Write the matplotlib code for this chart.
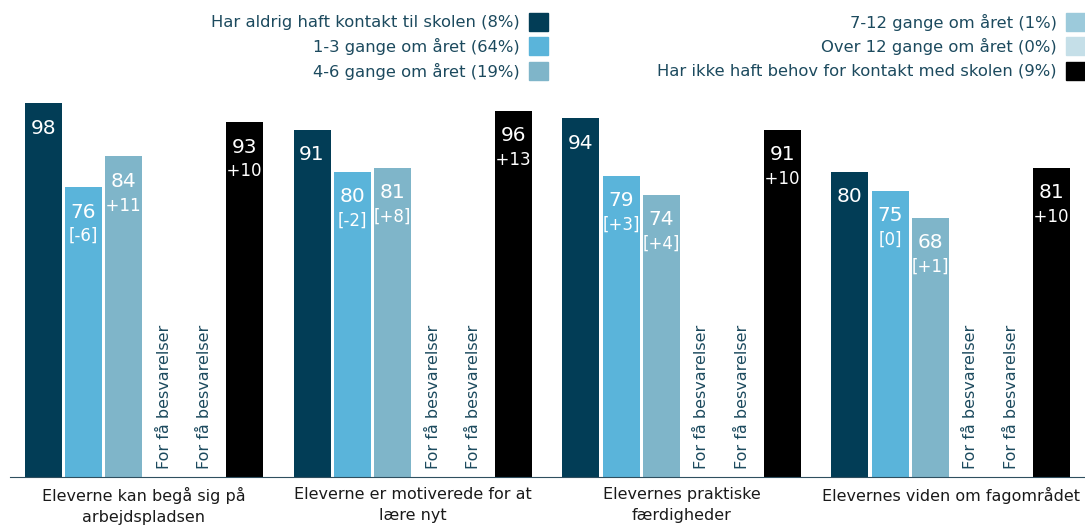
import matplotlib.pyplot as plt
from matplotlib.patches import Rectangle
import numpy as np

kategorier = ['Eleverne kan begå sig på\narbejdspladsen',
              'Eleverne er motiverede for at\nlære nyt',
              'Elevernes praktiske\nfærdigheder',
              'Elevernes viden om fagområdet']

serier = ['Har aldrig haft kontakt til skolen (8%)',
          '1-3 gange om året (64%)',
          '4-6 gange om året (19%)',
          '7-12 gange om året (1%)',
          'Over 12 gange om året (0%)',
          'Har ikke haft behov for kontakt med skolen (9%)']
farver = ['#023d56', '#5ab4da', '#7fb5c9', '#9ccadb', '#c5dfe8', '#000000']

# None = for få besvarelser
vaerdier = [
    [98, 91, 94, 80],
    [76, 80, 79, 75],
    [84, 81, 74, 68],
    [None, None, None, None],
    [None, None, None, None],
    [93, 96, 91, 81],
]
aendringer = [
    [None, None, None, None],
    ['-6', '-2', '+3', '0'],
    ['+11', '+8', '+4', '+1'],
    [None, None, None, None],
    [None, None, None, None],
    ['+10', '+13', '+10', '+10'],
]

plt.rcParams['font.family'] = 'DejaVu Sans'
fig = plt.figure(figsize=(10.85, 5.27), dpi=100)
ax = fig.add_axes([0.0088, 0.0949, 0.9912, 0.724])

x = np.arange(len(kategorier))
bredde = 0.1375
trin = 0.15
tekstfarve = '#1c4a5e'

for i, (vals, aend) in enumerate(zip(vaerdier, aendringer)):
    pos = x + (i - 2.5) * trin
    for xp, v, a in zip(pos, vals, aend):
        if v is None:
            ax.text(xp, 2, 'For få besvarelser', rotation=90, ha='center',
                    va='bottom', fontsize=11.5, color=tekstfarve)
            continue
        bar = ax.bar(xp, v, width=bredde, color=farver[i])[0]
        ax.annotate(str(v), (xp, v), xytext=(0, -25), textcoords='offset pixels',
                    ha='center', va='center', fontsize=14.5, color='white')
        if a is not None:
            t = ax.annotate(f'[{a}]', (xp, v), xytext=(0, -49),
                            textcoords='offset pixels', ha='center', va='center',
                            fontsize=12, color='white')
            t.set_clip_path(bar)

ax.set_xlim(-0.5, 3.5)
ax.set_ylim(0, 100)
for s in ['top', 'right', 'left']:
    ax.spines[s].set_visible(False)
ax.spines['bottom'].set_color('#2f4f5f')
ax.set_yticks([])
ax.set_xticks(x)
ax.set_xticklabels(kategorier, fontsize=11.5, color='#1a1a1a', linespacing=1.5)
ax.tick_params(axis='x', length=0, pad=7)

# legende i to kolonner, tekst højrestillet med kasse til højre
kol_x = [529, 1066]
rk_y = [22, 46, 71]
W, H = 1085, 527
for i, navn in enumerate(serier):
    kx = kol_x[i // 3]
    ky = rk_y[i % 3]
    fig.patches.append(Rectangle((kx / W, 1 - (ky + 9) / H), 19 / W, 18 / H,
                                 transform=fig.transFigure, color=farver[i]))
    fig.text((kx - 9) / W, 1 - ky / H, navn, ha='right', va='center',
             fontsize=11.8, color=tekstfarve)

fig.savefig('out.png', dpi=100)
